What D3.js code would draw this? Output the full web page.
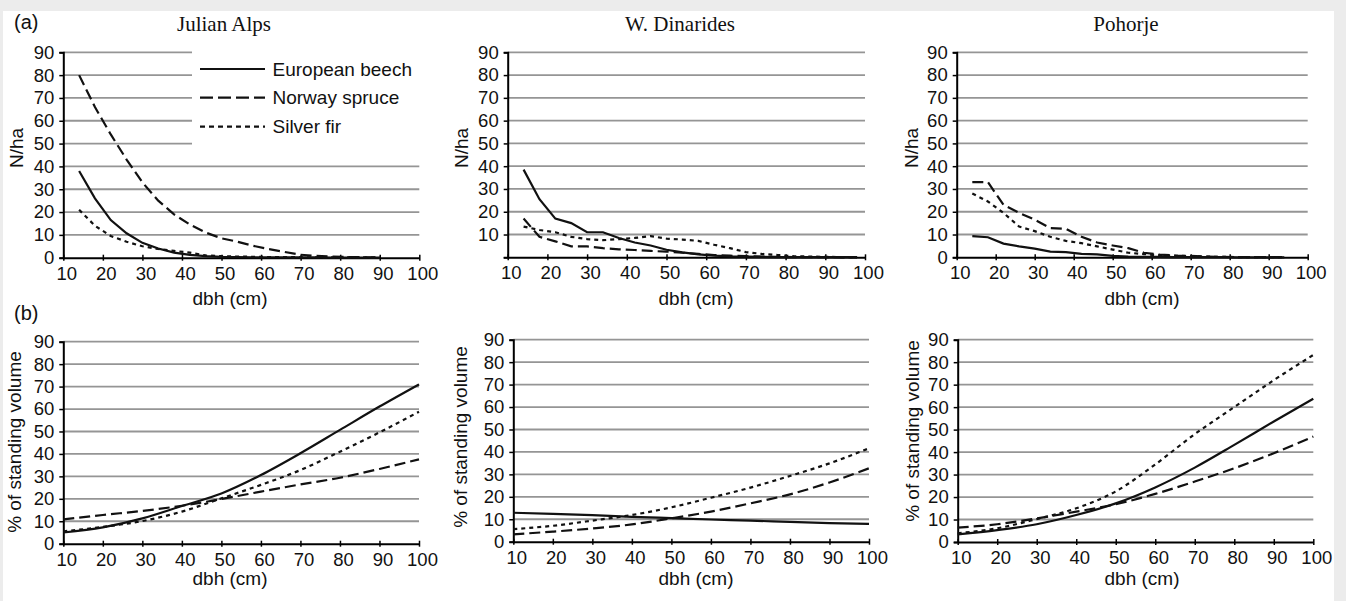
<!DOCTYPE html>
<html><head><meta charset="utf-8">
<script src="https://cdn.jsdelivr.net/npm/d3@7"></script>
<style>
html,body{margin:0;padding:0;background:#ececec;}
svg{display:block;}
</style></head>
<body>
<svg id="chart" width="1346" height="601"></svg>
<script>
// ---------- data ----------
const regions = ["Julian Alps", "W. Dinarides", "Pohorje"];
const speciesNames = ["European beech", "Norway spruce", "Silver fir"];
const xTicks = [10, 20, 30, 40, 50, 60, 70, 80, 90, 100];
const yTicks = [0, 10, 20, 30, 40, 50, 60, 70, 80, 90];

// (a) N/ha by dbh class
const dbhClasses = [14, 18, 22, 26, 30, 34, 38, 42, 46, 50, 54, 58, 62, 66, 70, 74, 78, 82, 86, 90, 94, 98];

const jaBeechN  = [38, 26, 16.5, 10.7, 6.5, 4, 2.2, 1.2, 0.7, 0.4, 0.3, 0.2, 0.2, 0.1, 0.1, 0.1, 0, 0, 0, 0];
const jaSpruceN = [80, 66, 54, 43, 33, 25, 19, 14.5, 11, 8.5, 7, 5.2, 3.8, 2.5, 1.3, 0.8, 0.5, 0.3, 0.2, 0.1];
const jaFirN    = [21, 14, 9.5, 7, 5, 3.8, 3, 2.2, 1, 0.7, 0.5, 0.4, 0.3, 0.3, 0.2, 0.2, 0.1, 0.1, 0.1, 0];

const wdBeechN  = [38.5, 25.5, 17, 15, 11, 11, 8.5, 6.5, 5.2, 3.3, 2.2, 1.3, 0.7, 0.4, 0.3, 0.2, 0.1, 0.1, 0.1, 0.1, 0.1, 0.1];
const wdSpruceN = [17, 9, 7, 4.8, 4.8, 4, 3.5, 3.2, 2.8, 2.5, 2, 1.5, 1, 0.7, 0.5, 0.3, 0.2, 0.1, 0.1, 0.1, 0, 0];
const wdFirN    = [13.5, 12, 11, 9, 8, 7.5, 8, 8.5, 9.3, 8.2, 7.8, 7.2, 5.5, 4, 2.3, 1.5, 1, 0.5, 0.3, 0.2, 0.1, 0.1];

const poBeechN  = [9.3, 8.8, 6, 4.8, 3.8, 2.5, 2.3, 1.5, 1.3, 0.6, 0.3, 0.2, 0.2, 0.1, 0.1, 0.1, 0.1, 0, 0, 0, 0];
const poSpruceN = [33, 33, 23, 19.5, 16.5, 12.8, 12.5, 9, 6.5, 5.2, 4, 2, 1.2, 0.8, 0.6, 0.3, 0.2, 0.1, 0.1, 0.1, 0.1];
const poFirN    = [28, 24.5, 19.5, 13.5, 11.5, 9, 7.2, 6.2, 4.8, 3.4, 2, 1.4, 0.9, 0.7, 0.5, 0.3, 0.2, 0.1, 0.1, 0.1, 0.1];

// (b) % of standing volume
const dbhVol = [10, 20, 30, 40, 50, 60, 70, 80, 90, 100];

const jaBeechV  = [5, 7.3, 11.3, 16.8, 22.4, 30.6, 40.3, 50.7, 61.1, 71];
const jaSpruceV = [10.8, 12.8, 14.6, 16.9, 19.9, 23.2, 26.4, 29.4, 33.3, 37.6];
const jaFirV    = [5.5, 7.5, 10.1, 14.3, 20.2, 26.2, 32.8, 41, 49.6, 58.8];

const wdBeechV  = [12.9, 12.4, 11.8, 11.1, 10.5, 9.9, 9.4, 8.8, 8.3, 7.9];
const wdSpruceV = [3.3, 4.5, 5.9, 7.7, 10.4, 13.4, 17.1, 21.1, 26.4, 32.7];
const wdFirV    = [5.6, 7.1, 9.4, 11.9, 15.3, 19.6, 24.1, 29.3, 34.9, 41.6];

const poBeechV  = [3.4, 5.3, 7.9, 12, 17.2, 24.3, 33.1, 43.2, 53.6, 63.7];
const poSpruceV = [6.4, 7.9, 10.5, 13.5, 16.8, 21.4, 26.9, 32.8, 39.5, 46.9];
const poFirV    = [3.9, 6.1, 10.2, 15, 22.5, 34.5, 48, 60, 72, 83.2];

// ---------- layout / style ----------
const SANS = "'Liberation Sans', Arial, sans-serif";
const SERIF = "'Liberation Serif', 'Times New Roman', serif";
const dashes = ["none", "11,5", "4,4"];

const panels = [
  {row:0, title:regions[0], x0:63.3,  x1:419.3,  yTop:52.3,  yBot:257.7, series:[jaBeechN, jaSpruceN, jaFirN], ylab:"N/ha", ylabX:22.5, ylabY:148, xlabX:230, legend:true, zeroLabel:true},
  {row:0, title:regions[1], x0:507.7, x1:865,    yTop:52.3,  yBot:257.3, series:[wdBeechN, wdSpruceN, wdFirN], ylab:"N/ha", ylabX:468, ylabY:148, xlabX:696, zeroLabel:false},
  {row:0, title:regions[2], x0:956.7, x1:1307.7, yTop:52.3,  yBot:257.3, series:[poBeechN, poSpruceN, poFirN], ylab:"N/ha", ylabX:918, ylabY:148, xlabX:1142, zeroLabel:true},
  {row:1, x0:63.3,  x1:419,    yTop:341.7, yBot:543.7, series:[jaBeechV, jaSpruceV, jaFirV], ylab:"% of standing volume", ylabX:21, ylabY:442, xlabX:230, zeroLabel:true},
  {row:1, x0:513.3, x1:869,    yTop:339.7, yBot:541.7, series:[wdBeechV, wdSpruceV, wdFirV], ylab:"% of standing volume", ylabX:467, ylabY:437, xlabX:696, zeroLabel:true},
  {row:1, x0:957.7, x1:1313.3, yTop:339.7, yBot:542,   series:[poBeechV, poSpruceV, poFirV], ylab:"% of standing volume", ylabX:919, ylabY:431, xlabX:1142, zeroLabel:true}
];
const titleX = [224, 680, 1126];

const svg = d3.select("#chart");
svg.append("rect").attr("x", 3).attr("y", 11).attr("width", 1331).attr("height", 590).attr("fill", "#fff");

panels.forEach((p, pi) => {
  const x = d3.scaleLinear().domain([10, 100]).range([p.x0, p.x1]);
  const y = d3.scaleLinear().domain([0, 90]).range([p.yBot, p.yTop]);
  const g = svg.append("g");

  // gridlines
  g.append("g").selectAll("line").data(yTicks.filter(d => d > 0)).join("line")
    .attr("x1", x(10)).attr("x2", d => (p.legend && d >= 50) ? 192 : x(100))
    .attr("y1", d => y(d)).attr("y2", d => y(d))
    .attr("stroke", "#959595").attr("stroke-width", 1.8);

  // y axis
  const yAxis = d3.axisLeft(y).tickValues(yTicks).tickSize(4).tickPadding(5)
    .tickFormat(d => (d === 0 && !p.zeroLabel) ? "" : d);
  const ya = g.append("g").attr("transform", `translate(${x(10)},0)`).call(yAxis);
  ya.select(".domain").attr("stroke", "#000").attr("stroke-width", 2);
  ya.selectAll(".tick line").attr("stroke", "#000").attr("stroke-width", 1.5);
  ya.selectAll(".tick text").attr("font-family", SANS).attr("font-size", 18.5).attr("fill", "#111");

  // x axis
  const xAxis = d3.axisBottom(x).tickValues(xTicks).tickSize(3).tickSizeOuter(0).tickPadding(6);
  const xa = g.append("g").attr("transform", `translate(0,${y(0)})`).call(xAxis);
  xa.select(".domain").attr("stroke", "#000").attr("stroke-width", 2);
  xa.selectAll(".tick line").attr("stroke", "#000").attr("stroke-width", 1.5).attr("y1", -3);
  xa.selectAll(".tick text").attr("font-family", SANS).attr("font-size", 18.5).attr("fill", "#111").attr("dx", 3);

  // lines
  const isTop = p.row === 0;
  const xs = isTop ? dbhClasses : dbhVol;
  const line = d3.line()
    .x(d => x(d[0])).y(d => y(d[1]))
    .curve(isTop ? d3.curveLinear : d3.curveMonotoneX);
  p.series.forEach((vals, si) => {
    const pts = vals.map((v, i) => [xs[i], v]);
    g.append("path").datum(pts).attr("d", line)
      .attr("fill", "none").attr("stroke", "#111").attr("stroke-width", 2.2)
      .attr("stroke-dasharray", dashes[si] === "none" ? null : dashes[si]);
  });

  // axis labels
  g.append("text").attr("x", p.xlabX).attr("y", isTop ? 305 : 585)
    .attr("text-anchor", "middle").attr("font-family", SANS).attr("font-size", 19).attr("fill", "#111")
    .text("dbh (cm)");
  g.append("text").attr("transform", `translate(${p.ylabX},${p.ylabY}) rotate(-90)`)
    .attr("text-anchor", "middle").attr("font-family", SANS).attr("font-size", 19).attr("fill", "#111")
    .text(p.ylab);

  if (p.title) {
    g.append("text").attr("x", titleX[pi]).attr("y", 31).attr("text-anchor", "middle")
      .attr("font-family", SERIF).attr("font-size", 21).attr("fill", "#111").text(p.title);
  }

  if (p.legend) {
    const lg = g.append("g");
    const rowsY = [69, 97.7, 126.7];
    speciesNames.forEach((name, si) => {
      lg.append("line").attr("x1", 200).attr("x2", 265).attr("y1", rowsY[si]).attr("y2", rowsY[si])
        .attr("stroke", "#111").attr("stroke-width", 2.2)
        .attr("stroke-dasharray", si === 1 ? "13,5" : si === 2 ? "5,4" : null);
      lg.append("text").attr("x", 272.5).attr("y", rowsY[si]).attr("dy", "0.35em")
        .attr("font-family", SANS).attr("font-size", 19).attr("fill", "#111").text(name);
    });
  }
});

// panel letters
svg.append("text").attr("x", 14).attr("y", 29).attr("font-family", SANS).attr("font-size", 20).attr("fill", "#111").text("(a)");
svg.append("text").attr("x", 14).attr("y", 320).attr("font-family", SANS).attr("font-size", 20).attr("fill", "#111").text("(b)");
</script>
</body></html>
